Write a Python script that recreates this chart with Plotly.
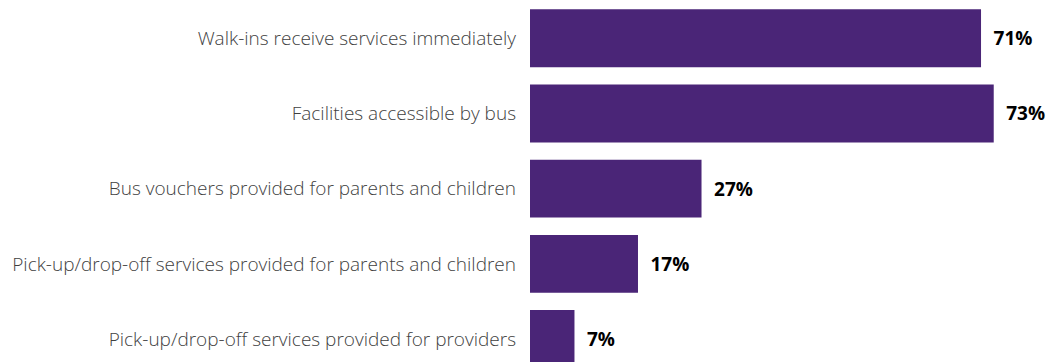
import plotly.graph_objects as go

categories = [
    "Walk-ins receive services immediately",
    "Facilities accessible by bus",
    "Bus vouchers provided for parents and children",
    "Pick-up/drop-off services provided for parents and children",
    "Pick-up/drop-off services provided for providers",
]
values = [71, 73, 27, 17, 7]
value_labels = [f"{v}%" for v in values]

BAR_COLOR = "#4a2577"

fig = go.Figure(
    go.Bar(
        x=values,
        y=categories,
        orientation="h",
        marker=dict(color=BAR_COLOR, line=dict(width=0)),
        width=0.77,
        text=[f"\u2002{t}" for t in value_labels],
        textposition="outside",
        textfont=dict(family="Open Sans", size=19, color="#000000", weight="bold"),
        cliponaxis=False,
        hoverinfo="skip",
    )
)

fig.update_layout(
    width=1049,
    height=362,
    margin=dict(l=530, r=0, t=0, b=0),
    paper_bgcolor="white",
    plot_bgcolor="white",
    showlegend=False,
    bargap=0.23,
    xaxis=dict(
        range=[0, 81.7],
        visible=False,
        showgrid=False,
        zeroline=False,
    ),
    yaxis=dict(
        categoryorder="array",
        categoryarray=categories,
        range=[4.305, -0.509],
        showgrid=False,
        zeroline=False,
        showline=False,
        ticks="",
        ticklabelstandoff=13,
        tickfont=dict(family="Open Sans", size=19, color="#3f3f3f", weight=300),
    ),
)

fig.write_html("out.html")
